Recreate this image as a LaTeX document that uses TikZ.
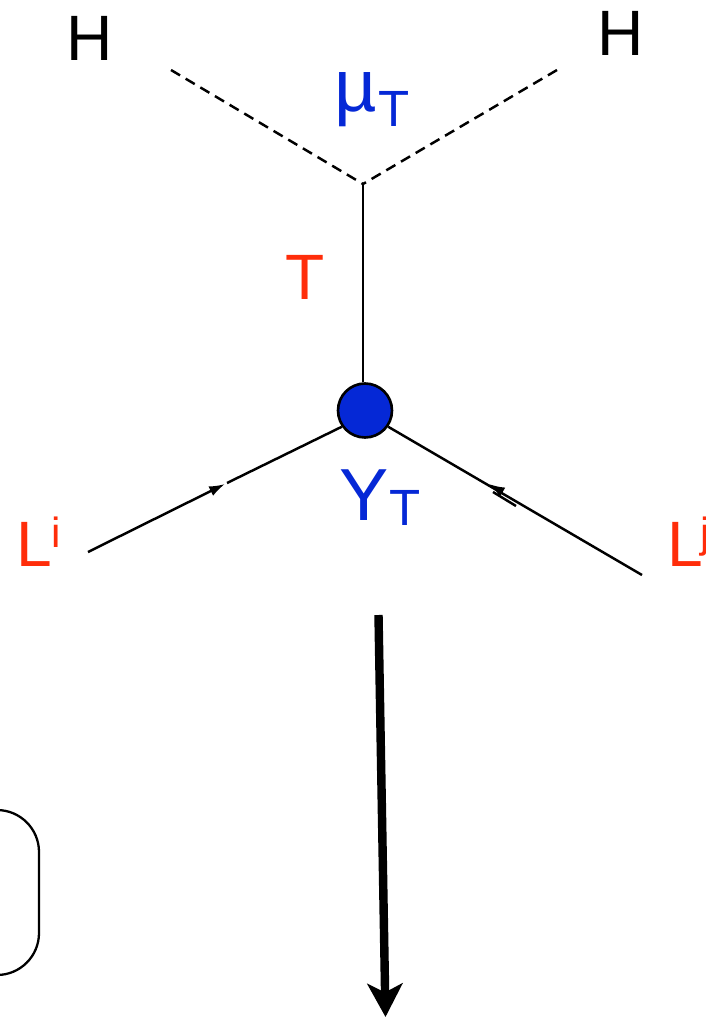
\documentclass[tikz,border=0pt]{standalone}
\usepackage{fontspec}
\usepackage{xcolor}
\setmainfont{Liberation Sans}
\usetikzlibrary{calc, arrows.meta, positioning}
\definecolor{labelred}{HTML}{FF2D0A}
\definecolor{labelblue}{HTML}{0528D6}
\tikzset{
    lbl/.style={inner sep=0pt, font=\fontsize{36.5}{36.5}\selectfont},
    biglbl/.style={inner sep=0pt, font=\fontsize{42}{42}\selectfont},
    sublbl/.style={inner sep=0pt, font=\fontsize{29}{29}\selectfont},
    suplbl/.style={inner sep=0pt, font=\fontsize{24}{24}\selectfont},
    fermion/.style={line width=1.4pt},
    scalar/.style={line width=1.4pt, dash pattern=on 6pt off 3.7pt},
}

\begin{document}
\begin{tikzpicture}[>=latex, x=0.02cm, y=-0.02cm]
    \useasboundingbox (0,0) rectangle (706,1017);
    \clip (0,0) rectangle (706,1017);

    % 1. Higgs lines
    \coordinate (hl) at (171,70);
    \coordinate (hr) at (557,70);
    \coordinate (vt) at (363,184);
    \draw[scalar] (hl) -- (vt);
    \draw[scalar] (hr) -- (vt);
    \node[lbl] (Hl) at (90,38.5) {H};
    \node[lbl] (Hr) at (621,33.5) {H};

    % 2. Triplet line and blob
    \node[circle, draw, line width=1.5pt, fill=labelblue, minimum size=1.08cm, inner sep=0pt] (blob) at (365,410.5) {};
    \draw[line width=1.2pt] (vt) -- (vt |- blob.north);
    \node[lbl, text=labelred] (T) at (305,277) {T};

    % 3. Lepton lines
    \coordinate (li) at (88,552);
    \coordinate (lim) at (225,484);
    \coordinate (limb) at (227,483);
    \coordinate (lj) at (642,575);
    \coordinate (ljm) at (489,484);
    \coordinate (ljb) at (500,490.5);
    \coordinate (ljs) at (516,506);
    \coordinate (ljt) at (493,492);
    \draw[fermion, -{Latex[length=9pt, width=6pt]}] (li) -- (lim);
    \draw[fermion] (limb) -- (blob.215);
    \draw[fermion] (lj) -- (blob.325);
    \draw[fermion, -{Latex[length=9pt, width=6pt]}] (ljb) -- (ljm);
    \draw[fermion] (ljs) -- (ljt);

    % 4. Labels
    \node[lbl, text=labelred, anchor=base west] (Li) at (16,566) {L};
    \node[suplbl, text=labelred, anchor=base west] (Lisup) at (51,547) {i};
    \node[lbl, text=labelred, anchor=base west] (Lj) at (667,566) {L};
    \node[suplbl, text=labelred, anchor=base west] (Ljsup) at (700,547) {j};
    \node[biglbl, text=labelblue, anchor=base west] (Yt) at (339,520) {Y};
    \node[sublbl, text=labelblue, anchor=base west] (Ytsub) at (389,525) {T};
    \node[biglbl, text=labelblue, anchor=base west] (mut) at (334,112) {\char"00B5};
    \node[sublbl, text=labelblue, anchor=base west] (mutsub) at (378,127) {T};

    % 5. Big arrow and box
    \coordinate (arrtop) at (378.5,615);
    \coordinate (arrend) at (385.5,1017);
    \draw[line width=4.8pt, -{Stealth[length=19pt, width=20pt, inset=5pt]}] (arrtop) -- (arrend);
    \node[draw, line width=1.3pt, outer sep=0pt, rounded corners=0.84cm, minimum width=4cm, minimum height=3.3cm, inner sep=0pt, anchor=east] (bx) at (39,892.5) {};
\end{tikzpicture}
\end{document}
